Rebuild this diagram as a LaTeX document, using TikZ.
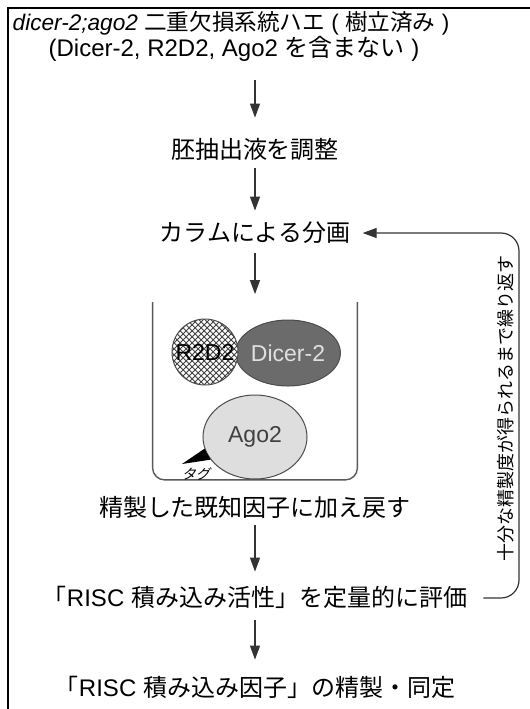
\documentclass[tikz,border=0pt]{standalone}
\usepackage{fontspec}
\setmainfont{Liberation Sans}
\newfontfamily\jp{Noto Sans CJK JP}
\newfontfamily\jpsl[FakeSlant=0.25]{Noto Sans CJK JP}
\usetikzlibrary{arrows.meta,patterns,shapes.geometric}

\begin{document}
\begin{tikzpicture}[x=0.5pt,y=-0.5pt]
  \tikzstyle{stage} = [inner sep=0pt, text height=10pt, text depth=2pt, font=\fontsize{12}{14}\selectfont]
  \tikzstyle{flow} = [draw=black!80, line width=0.6pt, -{Triangle[length=7pt,width=5pt]}]
  \tikzstyle{protein} = [ellipse, draw=black!70, line width=0.5pt, inner sep=0pt, font=\fontsize{11.5}{13}\selectfont]

  \useasboundingbox (0,0) rectangle (530,709);
  \draw[line width=1pt] (8,709) -- (8,8) -- (530,8);

  % starting strain
  \node[stage, font=\fontsize{11.3}{14}\selectfont] (fly) at (231,22)
    {\textit{dicer-2;ago2} {\jp 二重欠損系統ハエ} ( {\jp 樹立済み} )};
  \node[stage] (flynote) at (234,48)
    {(Dicer-2, R2D2, Ago2 {\jp を含まない} )};

  % steps
  \node[stage] (extract) at (255,150) {\jp 胚抽出液を調整};
  \node[stage] (column) at (255,233) {\jp カラムによる分画};
  \node[inner sep=0pt, minimum width=102pt, minimum height=88.5pt] (pool) at (255,391) {};
  \node[stage] (readd) at (255,508) {\jp 精製した既知因子に加え戻す};
  \node[stage] (assay) at (255,598) {{\jp 「}RISC {\jp 積み込み活性」を定量的に評価}};
  \node[stage] (ident) at (255,688) {{\jp 「}RISC {\jp 積み込み因子」の精製・同定}};

  % purified factors
  \draw[draw=black!65, line width=0.7pt, rounded corners=6pt]
    (pool.north west) -- (pool.south west) -- (pool.south east) -- (pool.north east);
  \node[protein, fill=black!58, minimum width=50pt, minimum height=33pt, text=white!88!black] (dicer) at (288,353) {Dicer-2};
  \node[protein, circle, minimum size=33pt, preaction={fill=white}, pattern=crosshatch, pattern color=black!75] (r2d2) at (205,352) {R2D2};
  \node[protein, fill=black!13, minimum width=52pt, minimum height=42pt, text=black!75] (ago) at (255,437) {Ago2};
  \coordinate (tagtip) at (182,464);
  \fill (ago.193) -- (tagtip) -- (ago.207) -- cycle;
  \node[inner sep=0pt, font=\fontsize{7}{8}\selectfont\jpsl] (tag) at (196,474) {タグ};

  % arrows
  \draw[flow, shorten <=10pt, shorten >=10pt] (extract |- flynote.south) -- (extract.north);
  \draw[flow, shorten <=3pt, shorten >=5pt] (extract) -- (column);
  \draw[flow, shorten <=4pt, shorten >=4pt] (column) -- (pool);
  \draw[flow, shorten <=2.5pt, shorten >=7pt] (readd) -- (assay);
  \draw[flow, shorten <=5pt, shorten >=8pt] (assay) -- (ident);

  % repeat loop
  \coordinate (loop) at (519,233);
  \draw[flow, rounded corners=9pt, shorten <=8pt, shorten >=6pt] (assay.east) -| (loop) -- (column.east);
  \node[rotate=90, inner sep=0pt, font=\fontsize{9}{11}\selectfont\jp] (repeat) at (506,408) {十分な精製度が得られるまで繰り返す};
\end{tikzpicture}
\end{document}
